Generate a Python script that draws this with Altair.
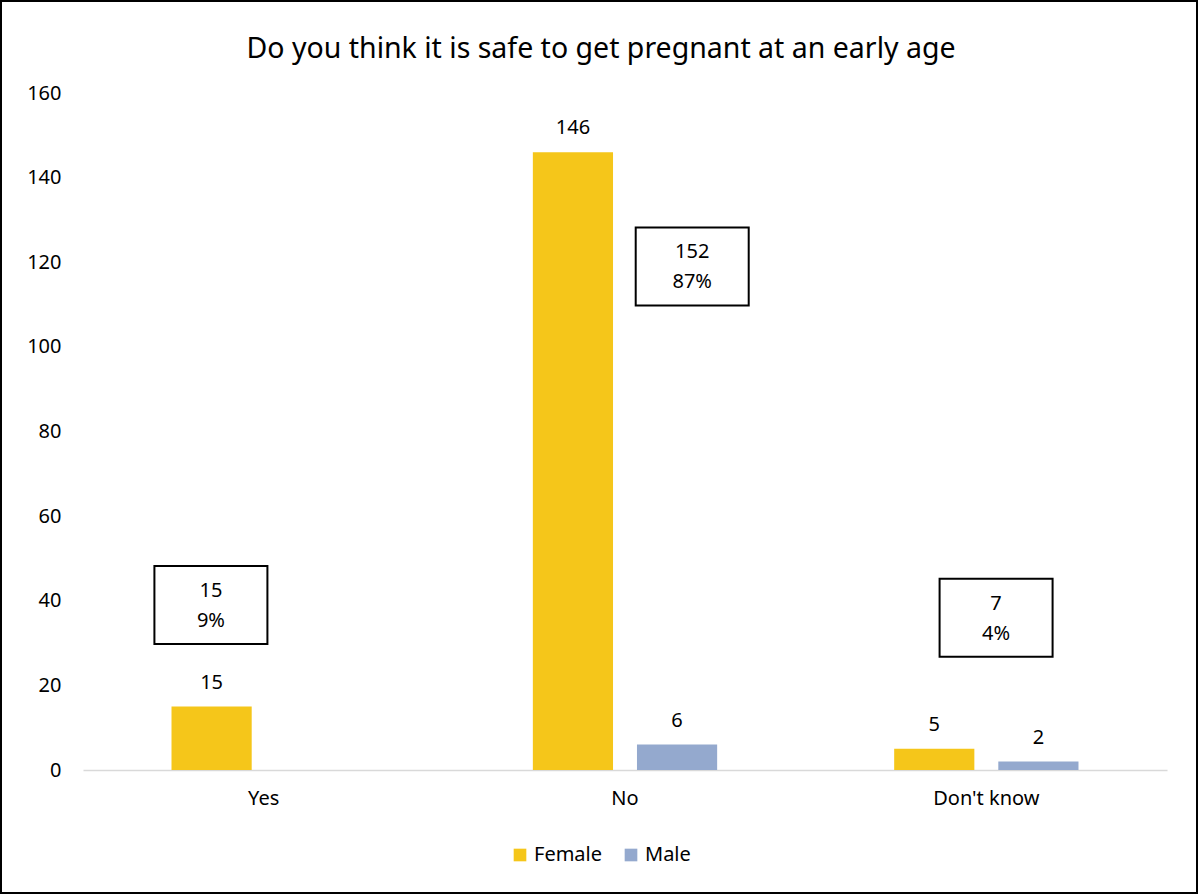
import altair as alt
import pandas as pd

# Survey responses by gender
categories = ["Yes", "No", "Don't know"]
genders = ["Female", "Male"]
female = [15, 146, 5]
male = [0, 6, 2]

# Callout boxes with the total per answer: horizontal position in category
# units (0..3 across the plot) and vertical level on the count axis
box_pos = [0.354, 1.686, 2.527]
box_level = [39, 119, 36]

colors = ["#F5C61A", "#94A9CE"]
FONT = "Noto Sans"

rows = []
for c, f, m in zip(categories, female, male):
    rows.append({"category": c, "gender": "Female", "count": f})
    rows.append({"category": c, "gender": "Male", "count": m})
bars_df = pd.DataFrame(rows)

totals = [f + m for f, m in zip(female, male)]
grand_total = sum(totals)
box_df = pd.DataFrame({
    "category": categories,
    "total": totals,
    "pos": box_pos,
    "level": box_level,
})
box_df["label"] = [
    f"{t}\n{round(100 * t / grand_total)}%" for t in totals
]

x_cat = alt.X(
    "category:N",
    sort=categories,
    scale=alt.Scale(paddingInner=0, paddingOuter=0),
    axis=alt.Axis(
        title=None, labelAngle=0, ticks=False, domainColor="#d9d9d9",
        domainWidth=1.5, labelPadding=18, labelFontSize=20,
        labelColor="#000000", labelFont=FONT,
    ),
)
x_off = alt.XOffset(
    "gender:N", sort=genders,
    scale=alt.Scale(paddingInner=0.23, paddingOuter=0.85),
)
y_count = alt.Y(
    "count:Q",
    scale=alt.Scale(domain=[0, 160], nice=False),
    axis=alt.Axis(
        values=list(range(0, 161, 20)), grid=False, domain=False, ticks=False,
        title=None, labelPadding=22, labelFontSize=20, labelColor="#000000",
        labelFont=FONT,
    ),
)

base = alt.Chart(bars_df)

bars = base.mark_bar().encode(
    x=x_cat,
    xOffset=x_off,
    y=y_count,
    color=alt.Color(
        "gender:N",
        sort=genders,
        scale=alt.Scale(domain=genders, range=colors),
        legend=alt.Legend(
            orient="none", legendX=427, legendY=752, direction="horizontal",
            title=None, symbolType="square", symbolSize=160,
            symbolStrokeWidth=0, labelFontSize=20, labelFont=FONT,
            labelColor="#000000", columnPadding=18,
        ),
    ),
)

values = base.transform_filter("datum.count > 0").mark_text(
    baseline="bottom", dy=-14, fontSize=20, font=FONT, color="#000000"
).encode(
    x=x_cat,
    xOffset=x_off,
    y=y_count,
    text=alt.Text("count:Q"),
)

box_x = alt.X("pos:Q", scale=alt.Scale(domain=[0, 3], nice=False, zero=True), axis=None)
box_y = alt.Y("level:Q", scale=alt.Scale(domain=[0, 160], nice=False), axis=None)

boxes = alt.Chart(box_df).mark_point(
    shape="M-1,-0.69L1,-0.69L1,0.69L-1,0.69Z",
    size=113 ** 2,
    filled=False,
    stroke="#000000",
    strokeWidth=2,
    opacity=1,
).encode(x=box_x, y=box_y)

box_text = alt.Chart(box_df).mark_text(
    lineBreak="\n", lineHeight=30, baseline="middle", fontSize=20,
    font=FONT, color="#000000", dy=-14,
).encode(x=box_x, y=box_y, text="label:N")

# Outer frame around the whole figure
frame = alt.Chart(pd.DataFrame({"f": [0]})).mark_rect(
    fillOpacity=0, stroke="#000000", strokeWidth=2
).encode(
    x=alt.value(-82), x2=alt.value(1114),
    y=alt.value(-92), y2=alt.value(800),
)

chart = (
    alt.layer(
        alt.layer(bars, values),
        alt.layer(boxes, box_text),
        frame,
    )
    .resolve_scale(x="independent", y="independent")
    .properties(
        width=1084,
        height=677,
        background="#ffffff",
        autosize=alt.AutoSizeParams(type="none"),
        padding={"left": 83, "top": 93, "right": 31, "bottom": 124},
        title=alt.Title(
            "Do you think it is safe to get pregnant at an early age",
            fontSize=28.5, font=FONT, fontWeight="normal", color="#000000",
            anchor="middle", frame="group", dx=-24, offset=-63,
        ),
    )
    .configure_view(strokeWidth=0)
)

chart.save("out.html", embed_options={"renderer": "svg", "actions": False})
